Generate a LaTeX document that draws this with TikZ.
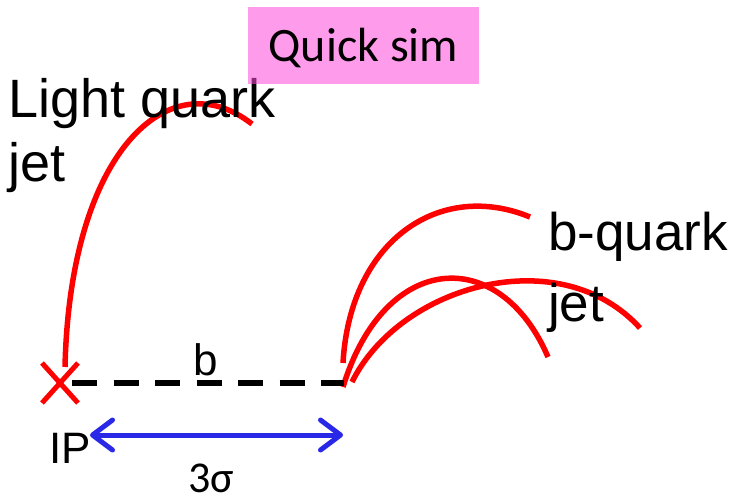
\documentclass[tikz,border=0pt]{standalone}
\usepackage{fontspec}
\setmainfont{Liberation Sans}
\newfontfamily\calibri{Carlito}
\usetikzlibrary{arrows.meta}
\definecolor{simpink}{RGB}{255,73,218}
\definecolor{jetred}{RGB}{255,0,0}
\definecolor{sigblue}{RGB}{40,40,230}

\begin{document}
\begin{tikzpicture}[x=1pt, y=-1pt,
  every node/.style={inner sep=0pt},
  big/.style={font=\fontsize{54}{63}\selectfont, align=left},
  small/.style={font=\fontsize{44}{50}\selectfont},
  track/.style={draw=jetred, line width=5.5pt},
  arr/.style={{Straight Barb[length=20pt,width=30pt,round]}-{Straight Barb[length=20pt,width=30pt,round]},
              draw=sigblue, line width=5pt}
]
  \useasboundingbox (0,0) rectangle (735,497);

  \coordinate (ip) at (60,383);
  \coordinate (sv) at (344,383);

  % light quark track
  \draw[track] ([shift={(5,-16)}]ip) .. controls (70,150) and (170,60) .. (252,124);

  % b-quark tracks
  \draw[track] ([shift={(-1,-20)}]sv) .. controls (350,240) and (440,180) .. (530,217);
  \draw[track] ([shift={(-1,4)}]sv) .. controls (385,250) and (500,245) .. (548,357);
  \draw[track] ([shift={(8,-1)}]sv) .. controls (400,285) and (560,240) .. (640,328);

  % labels (base = last line)
  \node[big, anchor=base west] (light) at (8,181) {Light quark\\jet};
  \node[font=\fontsize{53}{71}\selectfont, align=left, anchor=base west] (bjet) at (548,321) {b-quark\\jet};

  % quick sim box, drawn over the text
  \node[fill=simpink, fill opacity=0.55, text opacity=1, minimum width=231pt, minimum height=77pt,
        text height=40pt, text depth=7pt,
        font=\calibri\fontsize{48}{52}\selectfont] (sim) at (363.5,45.5) {Quick sim};

  % IP cross
  \draw[track, line width=5pt] ([shift={(-18,-20)}]ip) -- ([shift={(18,20)}]ip)
                               ([shift={(-18,20)}]ip) -- ([shift={(18,-20)}]ip);

  % impact parameter
  \draw[line width=5.5pt, dash pattern=on 25pt off 16.5pt] ([shift={(12,0)}]ip) -- (sv);
  \node[small, anchor=base west] (b) at (193,375) {b};

  % 3 sigma
  \node[small, anchor=base west] (IP) at (49,463) {IP};
  \coordinate (al) at (90,435);
  \coordinate (ar) at (343,435);
  \draw[arr] (al) -- (ar);
  \node[small, font=\calibri\fontsize{44}{50}\selectfont, anchor=base west] (sig) at (188,492) {3σ};
\end{tikzpicture}
\end{document}
